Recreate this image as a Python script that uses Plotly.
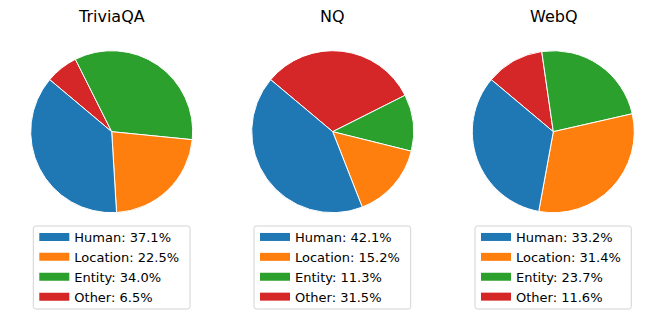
import plotly.graph_objects as go

datasets = ["TriviaQA", "NQ", "WebQ"]
categories = ["Human", "Location", "Entity", "Other"]
triviaqa_pct = [37.1, 22.5, 34.0, 6.5]
nq_pct = [42.1, 15.2, 11.3, 31.5]
webq_pct = [33.2, 31.4, 23.7, 11.6]
colors = ["#1f77b4", "#ff7f0e", "#2ca02c", "#d62728"]

W, H = 665, 319
all_vals = [triviaqa_pct, nq_pct, webq_pct]
pie_x = [(30.7, 192.7), (251.7, 413.7), (472.3, 634.3)]
pie_y = (50.7, 212.7)
legend_box_x = [(33.3, 190.0), (254.0, 410.7), (475.0, 631.3)]
legend_box_y = (226.0, 309.0)
legend_top = 222.0
legend_ids = ["legend", "legend2", "legend3"]
FONT = "DejaVu Sans"


def px(x):
    return x / W


def py(y):
    return 1 - y / H


def rounded_box(x0, y0, x1, y1, r=2.5):
    return (f"M {px(x0 + r)},{py(y0)} L {px(x1 - r)},{py(y0)} "
            f"Q {px(x1)},{py(y0)} {px(x1)},{py(y0 + r)} L {px(x1)},{py(y1 - r)} "
            f"Q {px(x1)},{py(y1)} {px(x1 - r)},{py(y1)} L {px(x0 + r)},{py(y1)} "
            f"Q {px(x0)},{py(y1)} {px(x0)},{py(y1 - r)} L {px(x0)},{py(y0 + r)} "
            f"Q {px(x0)},{py(y0)} {px(x0 + r)},{py(y0)} Z")


fig = go.Figure()
for i, (name, vals) in enumerate(zip(datasets, all_vals)):
    x0, x1 = pie_x[i]
    # reversed order drawn clockwise == original order counter-clockwise from 140 deg
    fig.add_trace(go.Pie(
        labels=categories[::-1], values=vals[::-1], sort=False, direction="clockwise",
        rotation=-50, textinfo="none", hoverinfo="label+percent",
        marker=dict(colors=colors[::-1], line=dict(color="white", width=1)),
        domain=dict(x=[px(x0), px(x1)], y=[py(pie_y[1]), py(pie_y[0])]),
        showlegend=False, name=name,
    ))
    for c, v, col in zip(categories, vals, colors):
        fig.add_trace(go.Scatter(
            x=[None], y=[None], mode="lines", line=dict(color=col, width=8),
            name=f"{c}: {v:.1f}%", legend=legend_ids[i], showlegend=True,
        ))
    fig.add_annotation(
        text=name, x=px((x0 + x1) / 2), y=py(16), xref="paper", yref="paper",
        xanchor="center", yanchor="middle", showarrow=False,
        font=dict(family=FONT, size=16, color="black"),
    )
    bx0, bx1 = legend_box_x[i]
    fig.add_shape(
        type="path", xref="paper", yref="paper",
        path=rounded_box(bx0, legend_box_y[0], bx1, legend_box_y[1]),
        line=dict(color="#d3d3d3", width=1), fillcolor="white", layer="below",
    )

legend_style = dict(
    xanchor="left", yanchor="top", bgcolor="rgba(0,0,0,0)",
    borderwidth=0, font=dict(family=FONT, size=13, color="black"),
    itemclick=False, itemdoubleclick=False, tracegroupgap=0,
)
layout_legends = {}
for i, lid in enumerate(legend_ids):
    layout_legends[lid] = dict(x=px(legend_box_x[i][0] + 1), y=py(legend_top), **legend_style)

fig.update_layout(
    width=W, height=H, margin=dict(l=0, r=0, t=0, b=0),
    paper_bgcolor="white", plot_bgcolor="white",
    xaxis=dict(visible=False), yaxis=dict(visible=False),
    font=dict(family=FONT),
    **layout_legends,
)
fig.write_html("out.html", config={"displayModeBar": False},
               post_script="document.body.style.margin='0';")
